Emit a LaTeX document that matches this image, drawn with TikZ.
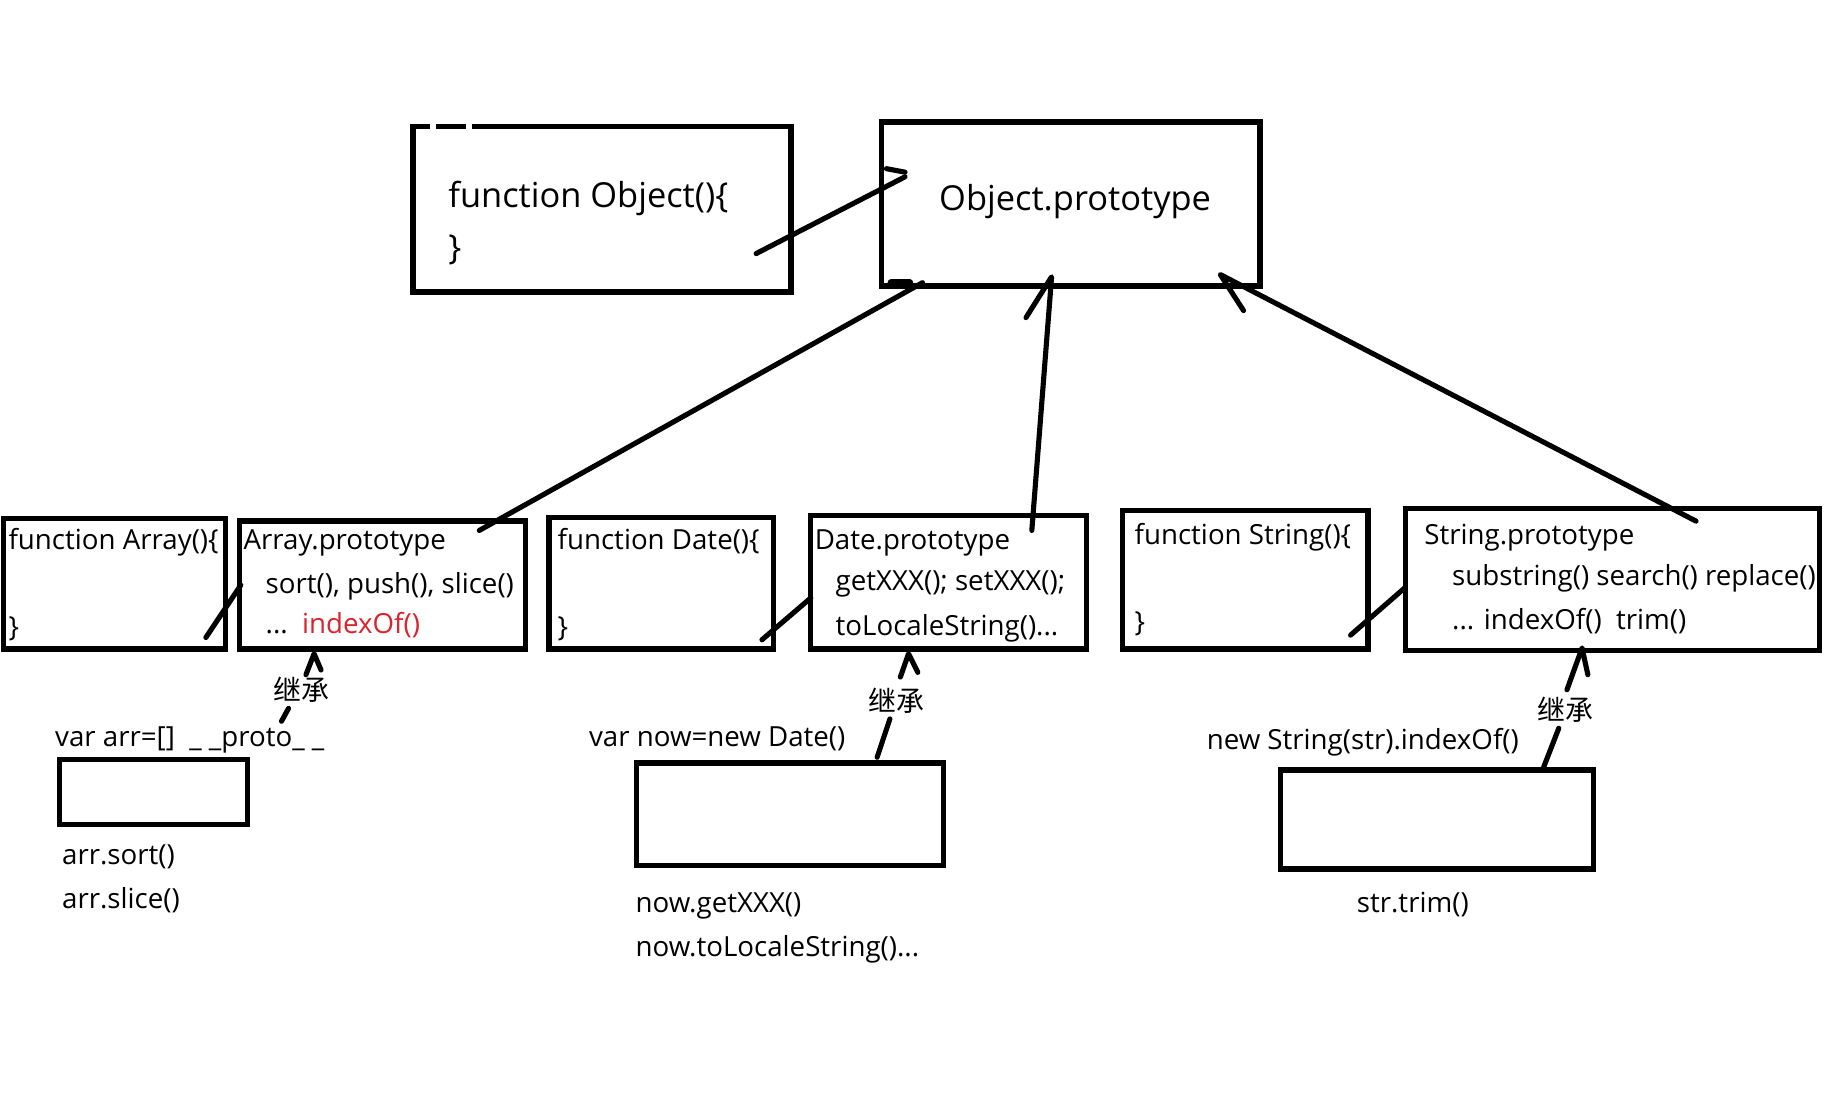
\documentclass[tikz,border=0pt]{standalone}
\usepackage{fontspec}
\setmainfont{Open Sans}
\newfontfamily\cjk{Noto Sans CJK SC}
\definecolor{jsred}{RGB}{220,35,45}
\begin{document}
\begin{tikzpicture}[x=0.5pt,y=-0.5pt]
\tikzset{
 box/.style={draw, line width=2.3pt, inner sep=0pt, outer sep=0pt, anchor=north west},
 bigtxt/.style={font=\fontsize{14.8}{18}\selectfont, anchor=base west, inner sep=0pt},
 txt/.style={font=\fontsize{11.9}{14}\selectfont, anchor=base west, inner sep=0pt},
 lbl/.style={font=\cjk\fontsize{12}{14}\selectfont, inner sep=0pt},
 conn/.style={line width=2.2pt, line cap=round, line join=round},
 gap/.style={white, line width=3.2pt},
}
\fill[white] (0,0) rectangle (1568,942);
\useasboundingbox (0,0) rectangle (1568,942);

% boxes
\node[box, minimum width=162.5pt, minimum height=71pt] (objf) at (355,109) {};
\node[box, minimum width=162.5pt, minimum height=70.5pt] (objp) at (758,105) {};
\node[box, minimum width=95.5pt, minimum height=56pt] (arrf) at (3,446) {};
\node[box, minimum width=123pt, minimum height=55pt] (arrp) at (206,448) {};
\node[box, minimum width=96.5pt, minimum height=56.5pt] (datf) at (472,445) {};
\node[box, minimum width=118.5pt, minimum height=57.5pt] (datp) at (697,443) {};
\node[box, minimum width=105.5pt, minimum height=59.5pt] (strf) at (965,439) {};
\node[box, minimum width=178pt, minimum height=61pt] (strp) at (1208,437) {};
\node[box, minimum width=81pt, minimum height=28pt] (arro) at (51,653) {};
\node[box, minimum width=132pt, minimum height=44pt] (dato) at (547,656) {};
\node[box, minimum width=134.5pt, minimum height=42.5pt] (stro) at (1101,662) {};

% small gaps in the top edge of the Object box
\coordinate (g1a) at (370,109); \coordinate (g1b) at (375,109);
\coordinate (g2a) at (401,109); \coordinate (g2b) at (406,109);
\draw[gap] (g1a) -- (g1b);
\draw[gap] (g2a) -- (g2b);

% texts
\node[bigtxt] (t1) at (385,178) {function Object()\{};
\node[bigtxt] (t2) at (385,223) {\}};
\node[bigtxt] (t3) at (807,181) {Object.prototype};

\node[txt] (t4) at (7,472) {function Array()\{};
\node[txt] (t5) at (7,547) {\}};
\node[txt] (t6) at (209,472) {Array.prototype};
\node[txt] (t7) at (228,510) {sort(), push(), slice()};
\node[txt] (t8) at (228,545) {...\ \ \textcolor{jsred}{indexOf()}};

\node[txt] (t9) at (479,472) {function Date()\{};
\node[txt] (t10) at (479,547) {\}};
\node[txt] (t11) at (700,472) {Date.prototype};
\node[txt] (t12) at (718,508) {getXXX(); setXXX();};
\node[txt] (t13) at (718,546) {toLocaleString()...};

\node[txt] (t14) at (975,468) {function String()\{};
\node[txt] (t15) at (975,543) {\}};
\node[txt] (t16) at (1224,468) {String.prototype};
\node[txt] (t17) at (1248,503) {substring() search() replace()};
\node[txt] (t18) at (1248,541) {... indexOf()\ \ trim()};

\node[txt] (t19) at (47,642) {var arr=[]\ \ \_\ \_proto\_\ \_};
\node[txt] (t20) at (53,743) {arr.sort()};
\node[txt] (t21) at (53,781) {arr.slice()};
\node[txt] (t22) at (506,642) {var now=new Date()};
\node[txt] (t23) at (546,784) {now.getXXX()};
\node[txt] (t24) at (546,822) {now.toLocaleString()...};
\node[txt] (t25) at (1037,644) {new String(str).indexOf()};
\node[txt] (t26) at (1166,784) {str.trim()};

\node[lbl] (l1) at (259,593) {继承};
\node[lbl] (l2) at (771,602) {继承};
\node[lbl] (l3) at (1346,610) {继承};

% constructor -> prototype (Object)
\coordinate (c1a) at (650,218); \coordinate (c1b) at (778,152);
\coordinate (c1c) at (778,148); \coordinate (c1d) at (762,145);
\draw[conn] (c1a) -- (c1b);
\draw[conn] (c1c) -- (c1d);

% Array.prototype -> Object.prototype
\coordinate (a1) at (412,456); \coordinate (a2) at (793,243); \coordinate (a3) at (766,243); \coordinate (a4) at (782,243);
\draw[conn] (a1) -- (a2);
\draw[conn, line width=3pt] (a4) -- (a3);

% Date.prototype -> Object.prototype
\coordinate (d1) at (887,456); \coordinate (d2) at (904,238); \coordinate (d3) at (882,273);
\draw[conn] (d1) -- (d2) -- (d3);

% String.prototype -> Object.prototype
\coordinate (s1) at (1458,448); \coordinate (s2) at (1049,236); \coordinate (s3) at (1069,267);
\draw[conn] (s1) -- (s2) -- (s3);

% constructors -> prototypes
\coordinate (ca1) at (177,548); \coordinate (ca2) at (207,503);
\draw[conn] (ca1) -- (ca2);
\coordinate (cd1) at (655,550); \coordinate (cd2) at (697,514);
\draw[conn] (cd1) -- (cd2);
\coordinate (cs1) at (1161,546); \coordinate (cs2) at (1208,505);
\draw[conn] (cs1) -- (cs2);

% instance -> prototype (inheritance)
\coordinate (ia1) at (242,620); \coordinate (ia2) at (248,609);
\coordinate (ia3) at (263,580); \coordinate (ia4) at (270,562); \coordinate (ia5) at (276,576);
\draw[conn] (ia1) -- (ia2);
\draw[conn] (ia3) -- (ia4) -- (ia5);

\coordinate (id1) at (754,651); \coordinate (id2) at (765,618);
\coordinate (id3) at (774,582); \coordinate (id4) at (781,562); \coordinate (id5) at (789,578);
\draw[conn] (id1) -- (id2);
\draw[conn] (id3) -- (id4) -- (id5);

\coordinate (is1) at (1326,662); \coordinate (is2) at (1340,626);
\coordinate (is3) at (1347,593); \coordinate (is4) at (1360,557); \coordinate (is5) at (1365,580);
\draw[conn] (is1) -- (is2);
\draw[conn] (is3) -- (is4) -- (is5);
\end{tikzpicture}
\end{document}
